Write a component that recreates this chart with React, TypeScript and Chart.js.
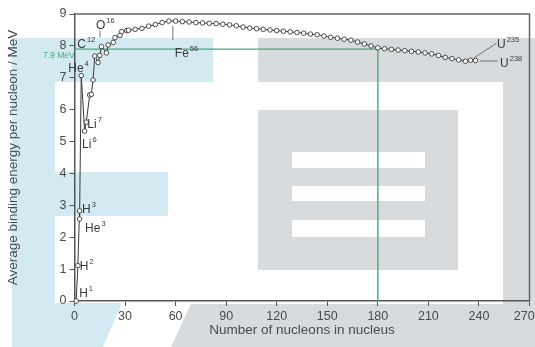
import React, { useEffect, useRef } from 'react';
import { Chart, registerables } from 'chart.js';

Chart.register(...registerables);

// ---- data ----
const nucleonNumbers = [1, 2, 3, 3, 4, 6, 7, 9, 10, 11, 12, 14, 15, 16, 19, 20, 23, 24, 27, 28, 31, 32, 36, 40, 44, 48, 52, 56, 60, 64, 68, 72, 76, 80, 84, 88, 92, 96, 100, 104, 108, 112, 116, 120, 124, 128, 132, 136, 140, 144, 148, 152, 156, 160, 164, 168, 172, 176, 180, 184, 188, 192, 196, 200, 204, 208, 212, 216, 220, 224, 228, 232, 235, 238];
const bindingEnergies = [0, 1.11, 2.83, 2.57, 7.07, 5.33, 5.61, 6.46, 6.48, 6.93, 7.68, 7.48, 7.7, 7.98, 7.78, 8.03, 8.11, 8.26, 8.33, 8.45, 8.48, 8.49, 8.52, 8.55, 8.62, 8.67, 8.73, 8.78, 8.78, 8.76, 8.75, 8.73, 8.72, 8.71, 8.7, 8.68, 8.66, 8.63, 8.59, 8.56, 8.54, 8.52, 8.5, 8.48, 8.46, 8.44, 8.42, 8.4, 8.37, 8.35, 8.31, 8.27, 8.24, 8.21, 8.18, 8.12, 8.06, 8.0, 7.94, 7.91, 7.89, 7.87, 7.85, 7.83, 7.81, 7.78, 7.75, 7.7, 7.64, 7.6, 7.56, 7.52, 7.55, 7.54];

const labelElements = ['H', 'H', 'H', 'He', 'He', 'Li', 'Li', 'C', 'O', 'Fe', 'U', 'U'];
const labelMasses = ['1', '2', '3', '3', '4', '6', '7', '12', '16', '56', '235', '238'];
const labelNucleons = [1, 2, 3, 3, 4, 6, 7, 12, 16, 56, 235, 238];
const labelEnergies = [0, 1.11, 2.83, 2.57, 7.07, 5.33, 5.61, 7.68, 7.98, 8.78, 7.55, 7.54];

const refNucleons = 180;
const refEnergy = 7.9;
const refLabel = '7.9 MeV';

const xTicks = { min: 0, max: 270, step: 30 };
const yTicks = { min: 0, max: 9, step: 1 };

const xTitle = 'Number of nucleons in nucleus';
const yTitle = 'Average binding energy per nucleon / MeV';

// ---- styles ----
const FONT = '"Liberation Sans", Arial, Helvetica, sans-serif';
const TEXT = '#4a4a4a';
const AXIS = '#555555';
const GREEN = '#45ab7c';

// label offsets [dx, dy, leader?]
const labelStyles: { dx: number; dy: number; leader?: number[] }[] = [
  { dx: 3, dy: -4 },
  { dx: 2, dy: 4.5 },
  { dx: 2.5, dy: 2 },
  { dx: 5.5, dy: 13 },
  { dx: -13, dy: -3.5 },
  { dx: -2.5, dy: 17 },
  { dx: 1, dy: 6 },
  { dx: -17.5, dy: -8 },
  { dx: -5.5, dy: -17.5, leader: [-1.5, -16, -1.5, -9] },
  { dx: 6, dy: 36, leader: [4, 5, 4, 19] },
  { dx: 26.5, dy: -12, leader: [3, -2, 26, -17] },
  { dx: 24.5, dy: 6.5, leader: [4, 0.5, 22, 0.5] },
];

const watermarkPlugin = {
  id: 'watermark',
  beforeDraw(chart: any) {
    const ctx = chart.ctx as CanvasRenderingContext2D;
    ctx.save();
    ctx.fillStyle = '#ffffff';
    ctx.fillRect(0, 0, chart.width, chart.height);
    // light blue shapes
    ctx.fillStyle = '#d3eaf3';
    ctx.fillRect(12, 38, 201, 44);
    ctx.fillRect(12, 38, 43, 266);
    ctx.fillRect(55, 172, 113, 44);
    ctx.beginPath();
    ctx.moveTo(12, 303);
    ctx.lineTo(122, 303);
    ctx.lineTo(103, 347);
    ctx.lineTo(12, 347);
    ctx.closePath();
    ctx.fill();
    // grey shapes
    ctx.fillStyle = '#d7dbde';
    ctx.fillRect(258, 38, 277, 44);
    ctx.fillRect(503, 38, 32, 309);
    ctx.fillRect(258, 110, 200, 160);
    ctx.beginPath();
    ctx.moveTo(191, 304);
    ctx.lineTo(535, 304);
    ctx.lineTo(535, 347);
    ctx.lineTo(171, 347);
    ctx.closePath();
    ctx.fill();
    ctx.fillStyle = '#ffffff';
    ctx.fillRect(292, 152, 133, 16);
    ctx.fillRect(292, 186, 133, 15);
    ctx.fillRect(292, 220, 133, 17);
    ctx.restore();
  },
};

const annotationPlugin = {
  id: 'annotations',
  afterDatasetsDraw(chart: any) {
    const ctx = chart.ctx as CanvasRenderingContext2D;
    const xs = chart.scales.x;
    const ys = chart.scales.y;
    const area = chart.chartArea;
    ctx.save();
    // frame (top/right)
    ctx.strokeStyle = '#666666';
    ctx.lineWidth = 1.5;
    ctx.beginPath();
    ctx.moveTo(area.left, area.top);
    ctx.lineTo(area.right, area.top);
    ctx.lineTo(area.right, area.bottom);
    ctx.stroke();
    // labels
    ctx.fillStyle = '#3a3a3a';
    ctx.strokeStyle = '#555555';
    ctx.lineWidth = 0.8;
    ctx.textBaseline = 'alphabetic';
    ctx.textAlign = 'left';
    labelElements.forEach((el, i) => {
      const px = xs.getPixelForValue(labelNucleons[i]);
      const py = ys.getPixelForValue(labelEnergies[i]);
      const s = labelStyles[i];
      if (s.leader) {
        ctx.beginPath();
        ctx.moveTo(px + s.leader[0], py + s.leader[1]);
        ctx.lineTo(px + s.leader[2], py + s.leader[3]);
        ctx.stroke();
      }
      ctx.font = `12px ${FONT}`;
      ctx.fillText(el, px + s.dx, py + s.dy);
      const w = ctx.measureText(el).width;
      ctx.font = `7.5px ${FONT}`;
      ctx.fillText(labelMasses[i], px + s.dx + w + 1, py + s.dy - 6);
    });
    // reference label
    ctx.fillStyle = GREEN;
    ctx.font = `8.5px ${FONT}`;
    ctx.fillText(refLabel, xs.getPixelForValue(0) - 31.5, ys.getPixelForValue(refEnergy) + 9);
    ctx.restore();
  },
};

export default function App() {
  const ref = useRef<HTMLCanvasElement>(null);
  useEffect(() => {
    document.body.style.margin = '0';
    Chart.defaults.font.family = FONT;
    const curve = nucleonNumbers.map((a, i) => ({ x: a, y: bindingEnergies[i] }));
    const refLine = [
      { x: xTicks.min, y: refEnergy },
      { x: refNucleons, y: refEnergy },
      { x: refNucleons, y: yTicks.min },
    ];
    const chart = new Chart(ref.current!, {
      type: 'line',
      data: {
        datasets: [
          {
            data: curve,
            borderColor: '#3a3a3a',
            borderWidth: 1,
            pointRadius: 2.3,
            pointBackgroundColor: '#ffffff',
            pointBorderColor: '#3a3a3a',
            pointBorderWidth: 0.9,
            tension: 0,
            clip: false as any,
            order: 0,
          },
          {
            data: refLine,
            borderColor: GREEN,
            borderWidth: 1.4,
            pointRadius: 0,
            tension: 0,
            order: 1,
          },
        ],
      },
      options: {
        animation: false,
        responsive: false,
        events: [],
        layout: { padding: { top: 14, right: 5.5, left: 0, bottom: 0 } },
        plugins: { legend: { display: false }, tooltip: { enabled: false } },
        scales: {
          x: {
            type: 'linear',
            min: xTicks.min,
            max: xTicks.max,
            afterFit(scale: any) {
              scale.height = 46;
              scale.paddingLeft = 0;
              scale.paddingRight = 0;
            },
            ticks: {
              stepSize: xTicks.step,
              color: TEXT,
              font: { size: 12.5 },
              padding: 3,
              maxRotation: 0,
              callback: (v: any) => (v === xTicks.max ? `${v}   ` : `${v}`),
            },
            grid: { drawOnChartArea: false, drawTicks: true, tickLength: 5, color: AXIS, lineWidth: 1 },
            border: { display: true, color: AXIS, width: 1.5 },
            title: { display: true, text: xTitle, color: TEXT, font: { size: 13.5 }, padding: { top: 0, bottom: 9 } },
          },
          y: {
            type: 'linear',
            min: yTicks.min,
            max: yTicks.max,
            afterFit(scale: any) {
              scale.width = 74.5;
              scale.paddingTop = 0;
              scale.paddingBottom = 0;
            },
            ticks: { stepSize: yTicks.step, color: TEXT, font: { size: 12.5 }, padding: 3 },
            grid: { drawOnChartArea: false, drawTicks: true, tickLength: 5, color: AXIS, lineWidth: 1 },
            border: { display: true, color: AXIS, width: 1.5 },
            title: { display: true, text: yTitle, color: TEXT, font: { size: 13.5 }, padding: { top: 5, bottom: 0 } },
          },
        },
      },
      plugins: [watermarkPlugin, annotationPlugin],
    });
    return () => chart.destroy();
  }, []);
  return (
    <div style={{ width: 535, height: 347 }}>
      <canvas ref={ref} width={535} height={347} style={{ display: 'block' }} />
    </div>
  );
}
